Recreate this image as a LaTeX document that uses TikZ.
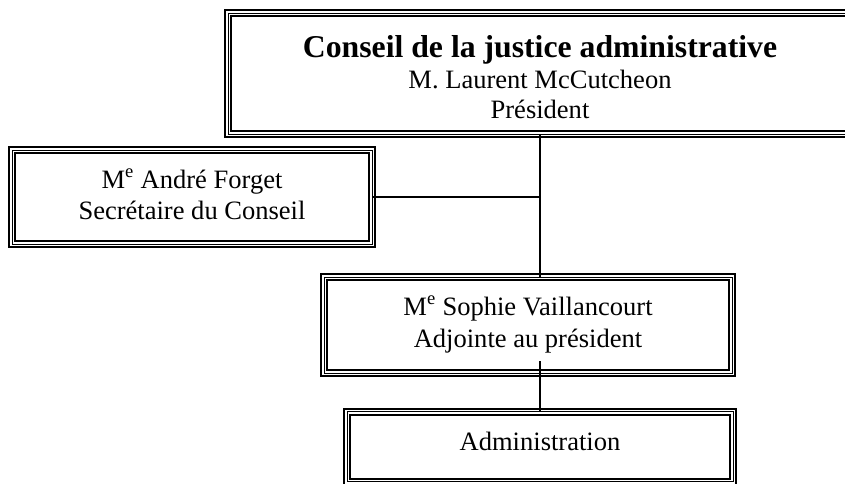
\documentclass[tikz,border=0pt]{standalone}
\usepackage{fontspec}
\setmainfont{Liberation Serif}
\tikzset{
  boxthin/.style={draw, line width=0.75pt, inner sep=0pt, outer sep=0pt},
  boxthick/.style={draw, line width=1.5pt},
  conn/.style={draw, line width=1pt},
  txt/.style={anchor=base, inner sep=0pt, font=\fontsize{19.9pt}{24pt}\selectfont},
  titletxt/.style={anchor=base, inner sep=0pt, font=\bfseries\fontsize{23.8pt}{28pt}\selectfont}
}
\newcommand\triborder[1]{%
  \draw[boxthick] ([shift={(-3,-3)}]#1.north west) rectangle ([shift={(3,3)}]#1.south east);
  \draw[boxthick] ([shift={(3,3)}]#1.north west) rectangle ([shift={(-3,-3)}]#1.south east);
}
\begin{document}
\begin{tikzpicture}[x=0.75pt,y=-0.75pt]
\useasboundingbox (0,0) rectangle (845,483);
\clip (0,0) rectangle (845,483);

% boxes
\node[boxthin, minimum width=468pt, minimum height=90.75pt] (top) at (540,73.75) {};
\node[boxthin, minimum width=270pt, minimum height=70.5pt] (sec) at (192,197) {};
\node[boxthin, minimum width=306pt, minimum height=72pt] (sophie) at (528,325) {};
\node[boxthin, minimum width=289.5pt, minimum height=52.5pt] (admin) at (540,446.9) {};
\triborder{top}
\triborder{sec}
\triborder{sophie}
\triborder{admin}

% texts
\node[titletxt] (t1) at (540,57) {Conseil de la justice administrative};
\node[txt] (t2) at (540,88) {M. Laurent McCutcheon};
\node[txt] (t3) at (540,118) {Président};
\node[txt] (s1) at (192,188) {M\textsuperscript{e} André Forget};
\node[txt] (s2) at (192,219) {Secrétaire du Conseil};
\node[txt] (p1) at (528,315) {M\textsuperscript{e} Sophie Vaillancourt};
\node[txt] (p2) at (528,347) {Adjointe au président};
\node[txt] (a1) at (540,450) {Administration};

% connectors
\draw[conn] (top.south) -- (top.south |- sophie.north);
\draw[conn] (sec.east) -- (sec.east -| top.south);
\draw[conn] ([yshift=9pt]admin.north |- sophie.south) -- (admin.north);
\end{tikzpicture}
\end{document}
